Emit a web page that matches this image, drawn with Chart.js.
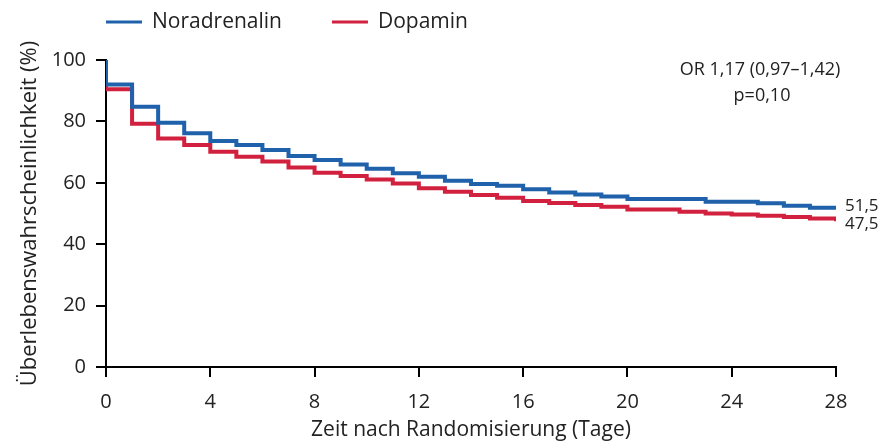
<!DOCTYPE html>
<html>
<head>
<meta charset="utf-8">
<script src="https://cdn.jsdelivr.net/npm/chart.js@4"></script>
<style>
  html, body { margin: 0; padding: 0; background: #fff; }
</style>
</head>
<body>
<canvas id="km" width="880" height="443"></canvas>
<script>
// survival data (Kaplan-Meier steps), day of step -> value after step
var days = [0, 0, 1, 2, 3, 4, 5, 6, 7, 8, 9, 10, 11, 12, 13, 14, 15, 16, 17, 18, 19, 20, 21, 22, 23, 24, 25, 26, 27, 28];
var noradrenalin = [100, 92, 84.8, 79.6, 76.1, 73.6, 72.3, 70.7, 68.7, 67.4, 66.0, 64.6, 63.1, 62.0, 60.7, 59.6, 59.0, 57.9, 56.8, 56.2, 55.5, 54.7, 54.7, 54.7, 53.8, 53.8, 53.3, 52.5, 51.9, 51.5];
var dopamin = [100, 90.5, 79.2, 74.4, 72.3, 70.1, 68.5, 66.9, 65.0, 63.3, 62.2, 61.1, 59.8, 58.2, 57.1, 56.0, 55.1, 54.1, 53.4, 52.8, 52.2, 51.3, 51.3, 50.6, 50.0, 49.7, 49.3, 48.9, 48.4, 47.5];
var seriesNames = ['Noradrenalin', 'Dopamin'];
var seriesColors = ['#1f62ab', '#d2213e'];
var endLabels = ['51,5', '47,5'];
var statsText = ['OR 1,17 (0,97\u20131,42)', 'p=0,10'];

var FONT = "'Open Sans', 'DejaVu Sans', sans-serif";
var TXT = '#222';

function toPoints(vals) {
    return vals.map(function (v, i) { return { x: days[i], y: v }; });
}

// legend on top + end values + OR / p text
var extraText = {
    id: 'extraText',
    afterDraw: function (chart) {
        var ctx = chart.ctx;
        var xs = chart.scales.x, ys = chart.scales.y;
        ctx.save();
        ctx.fillStyle = TXT;
        ctx.textBaseline = 'middle';
        ctx.textAlign = 'left';

        // legend
        ctx.font = '21px ' + FONT;
        var lx = chart.chartArea.left;
        for (var i = 0; i < seriesNames.length; i++) {
            ctx.strokeStyle = seriesColors[i];
            ctx.lineWidth = 3;
            ctx.beginPath();
            ctx.moveTo(lx, 22);
            ctx.lineTo(lx + 36, 22);
            ctx.stroke();
            ctx.fillText(seriesNames[i], lx + 46, 22);
            lx += 46 + ctx.measureText(seriesNames[i]).width + 50;
        }

        // values at day 28
        ctx.font = '17px ' + FONT;
        var xEnd = xs.getPixelForValue(28) + 9;
        ctx.fillText(endLabels[0], xEnd, ys.getPixelForValue(noradrenalin[noradrenalin.length - 1]) - 3);
        ctx.fillText(endLabels[1], xEnd, ys.getPixelForValue(dopamin[dopamin.length - 1]) + 3);

        ctx.textAlign = 'center';
        ctx.font = '18px ' + FONT;
        ctx.fillText(statsText[0], 760, 70);
        ctx.fillText(statsText[1], 762, 96);
        ctx.restore();
    }
};

var ctx = document.getElementById('km').getContext('2d');
new Chart(ctx, {
    type: 'line',
    data: {
        datasets: [{
            label: seriesNames[0],
            data: toPoints(noradrenalin),
            borderColor: seriesColors[0],
            borderWidth: 4,
            stepped: true,
            pointRadius: 0,
            fill: false
        }, {
            label: seriesNames[1],
            data: toPoints(dopamin),
            borderColor: seriesColors[1],
            borderWidth: 4,
            stepped: true,
            pointRadius: 0,
            fill: false
        }]
    },
    plugins: [extraText],
    options: {
        responsive: false,
        animation: false,
        layout: { padding: { top: 60, right: 44, left: 0, bottom: 0 } },
        plugins: {
            tooltip: { enabled: false },
            legend: { display: false }
        },
        scales: {
            x: {
                type: 'linear',
                min: 0,
                max: 28,
                afterFit: function (scale) { scale.height = 76; },
                border: { color: '#000', width: 2 },
                grid: { drawOnChartArea: false, color: '#000', lineWidth: 2, tickLength: 10 },
                ticks: { stepSize: 4, color: TXT, font: { family: FONT, size: 20 }, padding: 13 },
                title: { display: true, text: 'Zeit nach Randomisierung (Tage)', color: TXT, font: { family: FONT, size: 21 }, padding: 0 }
            },
            y: {
                min: 0,
                max: 100,
                afterFit: function (scale) { scale.width = 106; },
                border: { color: '#000', width: 2 },
                grid: { drawOnChartArea: false, color: '#000', lineWidth: 2, tickLength: 10 },
                ticks: { stepSize: 20, color: TXT, font: { family: FONT, size: 20 }, padding: 10 },
                title: { display: true, text: '\u00dcberlebenswahrscheinlichkeit (%)', color: TXT, font: { family: FONT, size: 22 }, padding: 17 }
            }
        }
    }
});
</script>
</body>
</html>
